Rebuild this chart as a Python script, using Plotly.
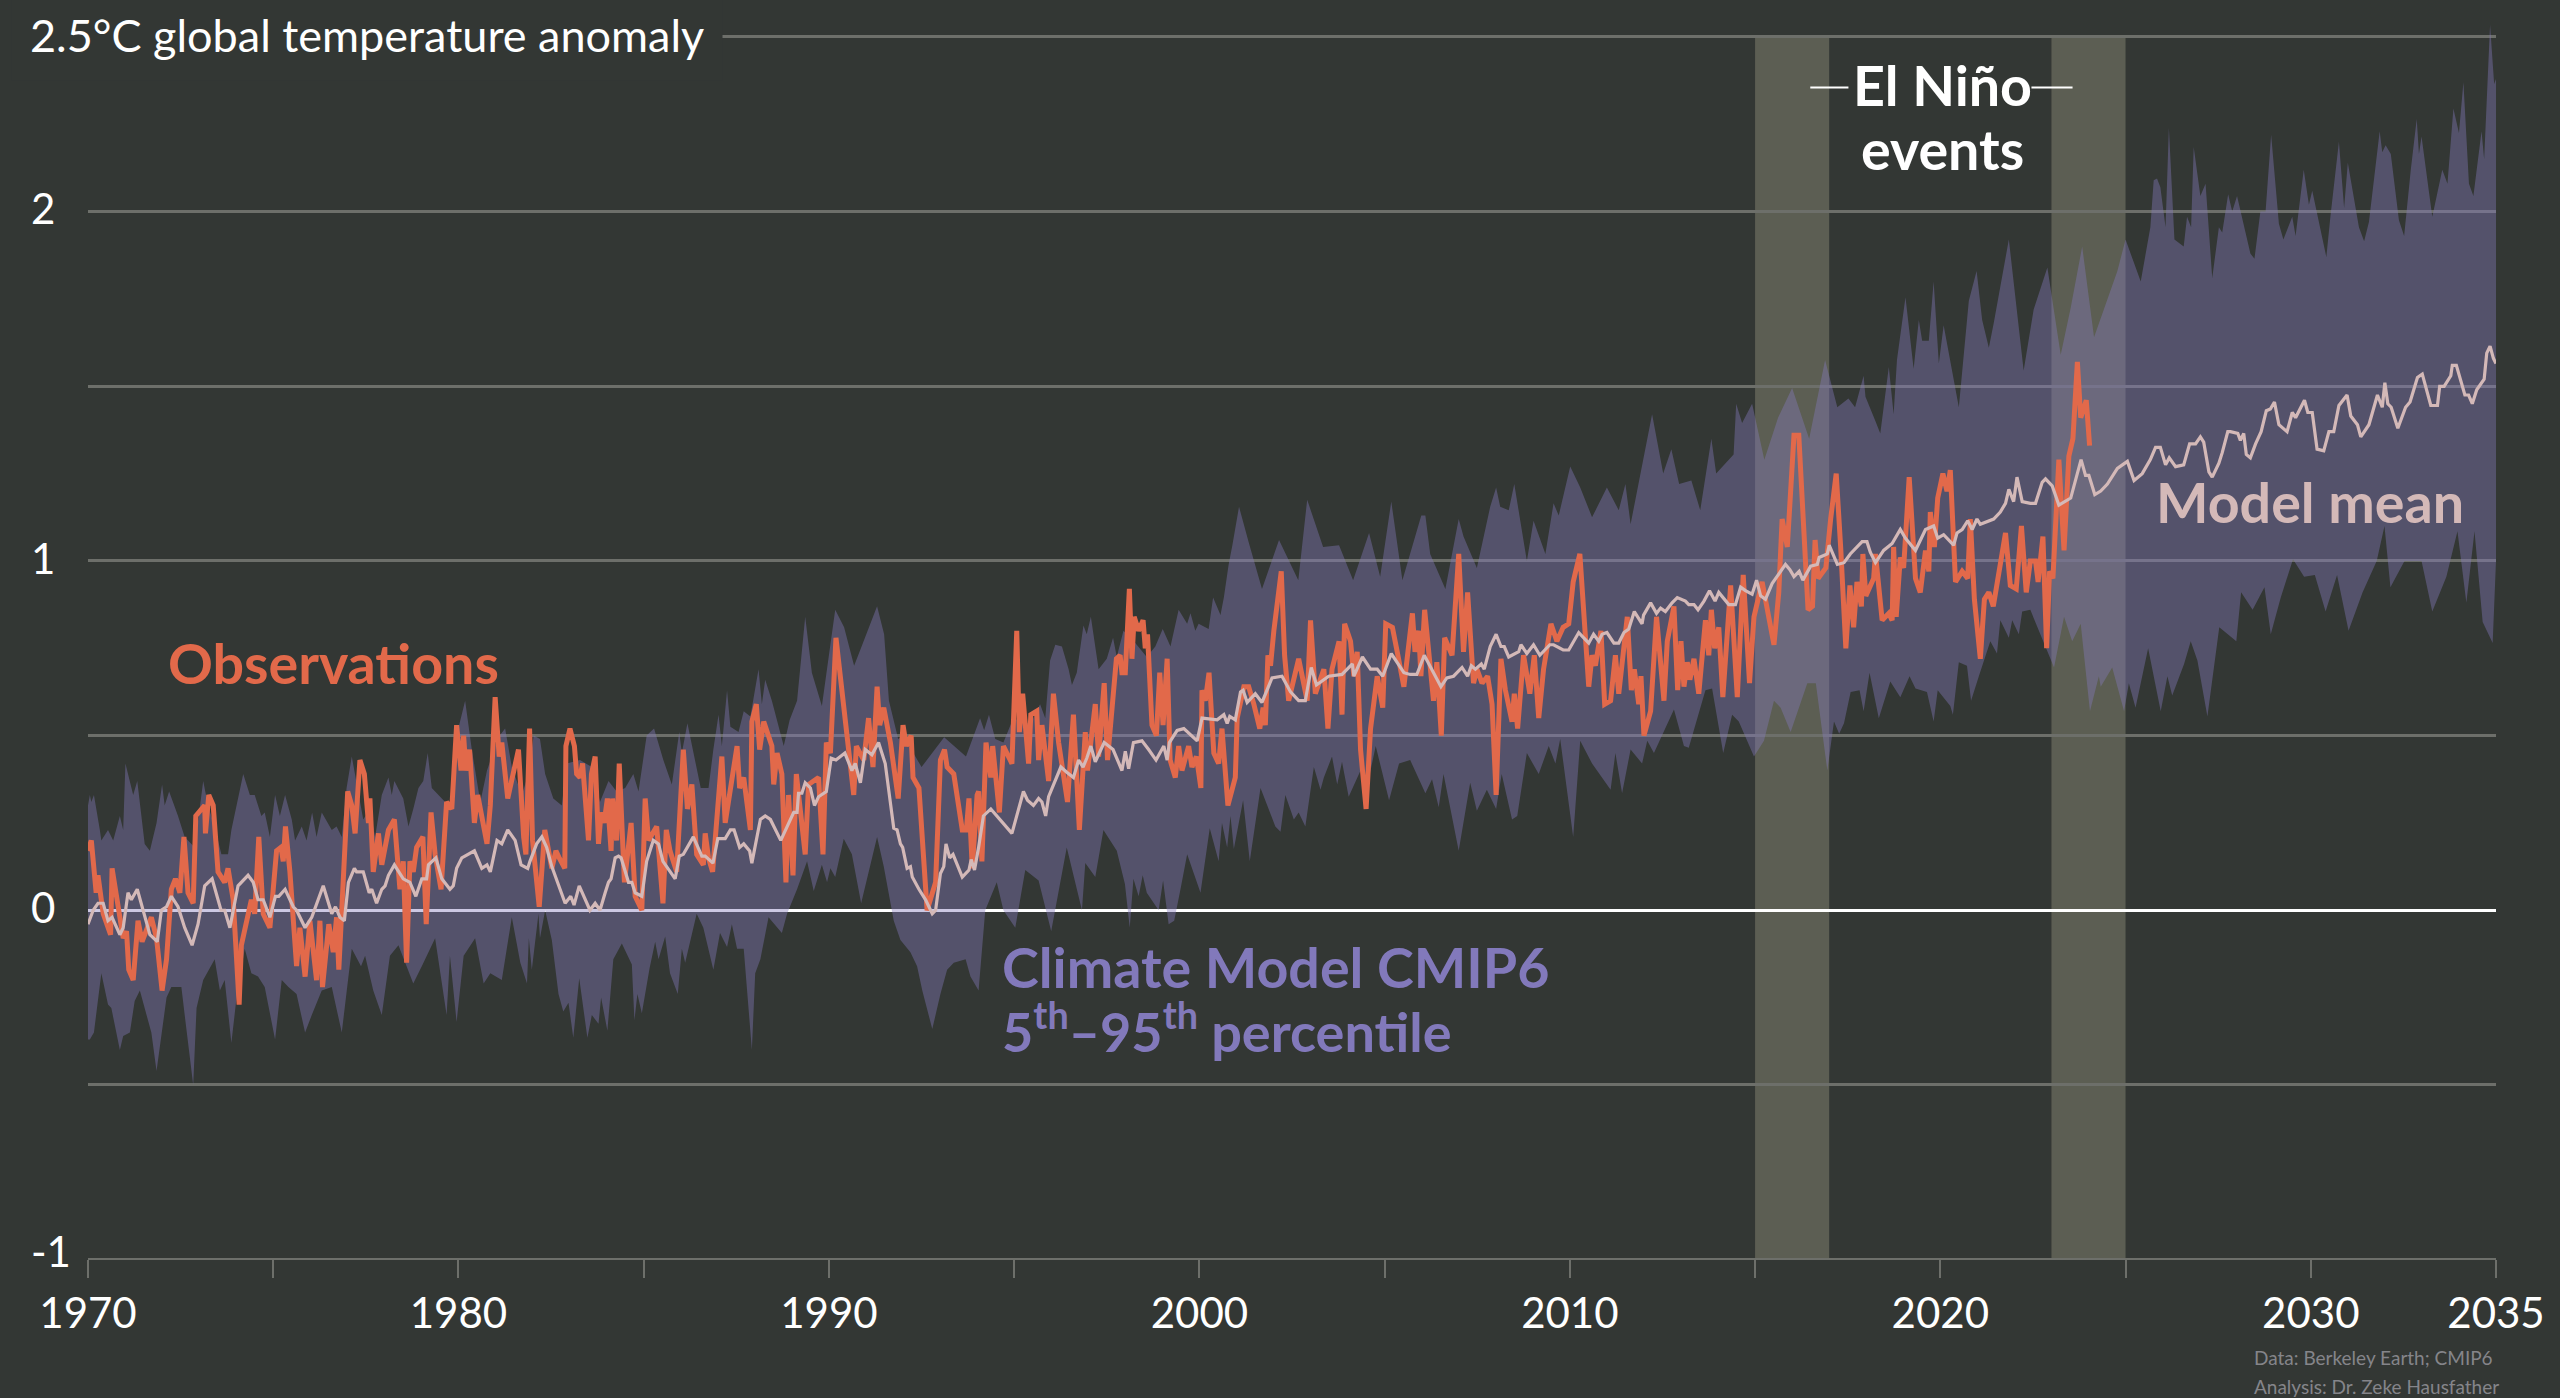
import plotly.graph_objects as go

# Values: (year, deg C)
obs_points = [
    (1970.00, .17), (1970.09, .20), (1970.22, .05), (1970.27, .10), (1970.41, -.01), (1970.61, -.07), (1970.65, .12),
    (1970.81, .02), (1970.95, -.08), (1971.04, -.06), (1971.10, -.17), (1971.22, -.20), (1971.35, -.03), (1971.46, -.09),
    (1971.71, -.02), (1971.85, -.08), (1972.00, -.23), (1972.12, -.14), (1972.25, .06), (1972.36, .09), (1972.48, .05),
    (1972.59, .21), (1972.70, .05), (1972.84, .02), (1972.91, .27), (1973.15, .30), (1973.17, .22), (1973.26, .33),
    (1973.38, .30), (1973.51, .11), (1973.69, .08), (1973.78, .12), (1973.92, .03), (1974.08, -.27), (1974.14, -.10),
    (1974.41, .03), (1974.50, -.01), (1974.61, .21), (1974.73, -.01), (1974.91, -.05), (1975.09, .17), (1975.21, .18),
    (1975.27, .14), (1975.33, .24), (1975.45, .11), (1975.63, -.16), (1975.72, -.05), (1975.86, -.19), (1975.99, -.03),
    (1976.17, -.20), (1976.26, -.03), (1976.33, -.22), (1976.50, -.04), (1976.62, -.12), (1976.71, -.02), (1976.77, -.17),
    (1977.01, .34), (1977.12, .30), (1977.21, .22), (1977.34, .43), (1977.46, .39), (1977.57, .25), (1977.61, .32),
    (1977.70, .11), (1977.84, .22), (1977.93, .13), (1978.11, .23), (1978.27, .26), (1978.42, .06), (1978.51, .14),
    (1978.60, -.15), (1978.69, .14), (1978.78, .11), (1978.87, .18), (1979.04, .21), (1979.13, -.04), (1979.26, .28),
    (1979.37, .16), (1979.53, .06), (1979.68, .31), (1979.82, .29), (1979.95, .53), (1980.07, .40), (1980.14, .50),
    (1980.20, .40), (1980.30, .46), (1980.43, .25), (1980.52, .33), (1980.77, .19), (1980.86, .30), (1980.99, .61),
    (1981.10, .44), (1981.17, .48), (1981.33, .32), (1981.46, .39), (1981.62, .46), (1981.76, .21), (1981.82, .16),
    (1981.92, .52), (1982.00, .20), (1982.18, .01), (1982.33, .23), (1982.52, .12), (1982.63, .17), (1982.72, .15),
    (1982.87, .12), (1982.90, .47), (1983.01, .52), (1983.13, .47), (1983.19, .39), (1983.28, .38), (1983.35, .42),
    (1983.51, .20), (1983.59, .39), (1983.69, .44), (1983.78, .19), (1983.85, .28), (1983.93, .25), (1984.02, .32),
    (1984.12, .17), (1984.16, .32), (1984.27, .20), (1984.34, .42), (1984.48, .08), (1984.66, .25), (1984.77, .04),
    (1984.95, .00), (1985.04, .32), (1985.13, .20), (1985.35, .24), (1985.52, .02), (1985.61, .23), (1985.71, .17),
    (1985.89, .11), (1986.07, .46), (1986.18, .29), (1986.30, .36), (1986.43, .16), (1986.61, .13), (1986.66, .22),
    (1986.75, .15), (1986.86, .11), (1987.11, .44), (1987.20, .25), (1987.52, .47), (1987.59, .35), (1987.70, .38),
    (1987.88, .23), (1987.92, .54), (1988.04, .59), (1988.13, .46), (1988.24, .54), (1988.46, .47), (1988.51, .36),
    (1988.60, .45), (1988.73, .39), (1988.84, .08), (1988.91, .33), (1989.03, .10), (1989.12, .39), (1989.36, .16),
    (1989.45, .36), (1989.72, .38), (1989.84, .16), (1989.93, .48), (1990.04, .45), (1990.19, .78), (1990.40, .58),
    (1990.49, .50), (1990.67, .33), (1990.74, .47), (1990.94, .43), (1991.07, .55), (1991.19, .41), (1991.30, .64),
    (1991.37, .53), (1991.48, .58), (1991.66, .48), (1991.87, .32), (1992.00, .53), (1992.09, .47), (1992.22, .50),
    (1992.27, .38), (1992.43, .35), (1992.65, .00), (1992.88, .08), (1993.01, .43), (1993.12, .46), (1993.19, .41),
    (1993.37, .39), (1993.60, .23), (1993.71, .23), (1993.78, .32), (1993.87, .12), (1994.00, .33), (1994.04, .34),
    (1994.13, .14), (1994.24, .48), (1994.37, .38), (1994.42, .47), (1994.60, .28), (1994.71, .47), (1994.94, .42),
    (1995.07, .80), (1995.14, .51), (1995.23, .62), (1995.39, .42), (1995.45, .56), (1995.61, .57), (1995.66, .43),
    (1995.75, .53), (1995.93, .37), (1996.06, .62), (1996.20, .48), (1996.44, .31), (1996.60, .56), (1996.76, .23),
    (1996.92, .51), (1996.98, .40), (1997.19, .59), (1997.28, .44), (1997.43, .65), (1997.52, .43), (1997.76, .72),
    (1997.86, .73), (1997.91, .68), (1998.00, .68), (1998.11, .92), (1998.18, .72), (1998.24, .84), (1998.36, .80),
    (1998.48, .83), (1998.54, .75), (1998.60, .79), (1998.72, .53), (1998.84, .50), (1998.93, .68), (1999.02, .53),
    (1999.13, .72), (1999.21, .43), (1999.35, .38), (1999.44, .47), (1999.53, .40), (1999.71, .47), (1999.80, .41),
    (1999.92, .44), (2000.04, .35), (2000.07, .63), (2000.16, .60), (2000.26, .68), (2000.39, .45), (2000.52, .42),
    (2000.61, .52), (2000.77, .30), (2000.97, .38), (2001.02, .55), (2001.20, .64), (2001.33, .64), (2001.47, .59),
    (2001.63, .52), (2001.72, .58), (2001.78, .53), (2001.85, .73), (2001.92, .70), (2002.01, .80), (2002.21, .97),
    (2002.30, .73), (2002.41, .60), (2002.68, .72), (2002.91, .60), (2003.00, .83), (2003.13, .62), (2003.36, .69),
    (2003.47, .52), (2003.58, .69), (2003.77, .77), (2003.85, .56), (2003.92, .82), (2004.08, .77), (2004.17, .67),
    (2004.26, .74), (2004.35, .46), (2004.50, .29), (2004.62, .52), (2004.80, .67), (2004.95, .58), (2005.03, .82),
    (2005.21, .81), (2005.34, .74), (2005.52, .64), (2005.75, .85), (2005.82, .74), (2005.92, .80), (2005.98, .67),
    (2006.08, .86), (2006.32, .60), (2006.41, .71), (2006.53, .50), (2006.62, .78), (2006.82, .73), (2007.00, 1.02),
    (2007.13, .74), (2007.24, .91), (2007.40, .65), (2007.49, .69), (2007.63, .65), (2007.78, .67), (2007.90, .59),
    (2008.01, .33), (2008.14, .72), (2008.26, .63), (2008.44, .54), (2008.50, .62), (2008.59, .52), (2008.75, .73),
    (2008.92, .62), (2009.04, .73), (2009.16, .55), (2009.29, .69), (2009.49, .82), (2009.65, .77), (2009.82, .81),
    (2009.97, .82), (2010.09, .94), (2010.27, 1.02), (2010.51, .64), (2010.60, .73), (2010.69, .70), (2010.84, .80),
    (2010.94, .59), (2011.10, .60), (2011.23, .73), (2011.32, .62), (2011.55, .84), (2011.66, .63), (2011.74, .69),
    (2011.86, .59), (2011.92, .67), (2012.00, .50), (2012.18, .57), (2012.34, .84), (2012.54, .60), (2012.63, .77),
    (2012.81, .87), (2012.91, .63), (2013.00, .77), (2013.08, .64), (2013.17, .71), (2013.24, .66), (2013.35, .72),
    (2013.48, .62), (2013.66, .83), (2013.75, .73), (2013.82, .86), (2013.91, .75), (2014.02, .81), (2014.13, .61),
    (2014.34, .93), (2014.52, .61), (2014.68, .96), (2014.85, .65), (2014.97, .84), (2015.19, .94), (2015.51, .76),
    (2015.64, .91), (2015.73, 1.12), (2015.87, 1.04), (2016.05, 1.36), (2016.18, 1.36), (2016.43, .86), (2016.55, .87),
    (2016.62, 1.06), (2016.70, .95), (2016.91, .98), (2017.04, 1.12), (2017.19, 1.25), (2017.31, 1.04), (2017.45, .75),
    (2017.56, .93), (2017.66, .81), (2017.75, .94), (2017.87, .87), (2017.91, 1.02), (2017.99, .90), (2018.20, .95),
    (2018.25, 1.02), (2018.43, .83), (2018.61, .85), (2018.70, .83), (2018.74, 1.04), (2018.81, .84), (2018.92, 1.01),
    (2019.01, .98), (2019.16, 1.24), (2019.33, .95), (2019.46, .91), (2019.60, 1.03), (2019.69, .97), (2019.73, 1.14),
    (2019.84, 1.04), (2019.93, 1.18), (2020.07, 1.25), (2020.18, 1.20), (2020.27, 1.26), (2020.41, .94), (2020.59, .97),
    (2020.74, .95), (2020.81, 1.12), (2020.92, .89), (2021.08, .72), (2021.19, .89), (2021.31, .91), (2021.43, .87),
    (2021.53, .94), (2021.76, 1.08), (2021.89, .93), (2022.05, .92), (2022.19, 1.10), (2022.32, .91), (2022.43, 1.00),
    (2022.57, 1.00), (2022.64, .94), (2022.77, 1.07), (2022.87, .75), (2022.95, .97), (2023.04, .95), (2023.20, 1.29),
    (2023.34, 1.03), (2023.47, 1.30), (2023.58, 1.35), (2023.70, 1.57), (2023.79, 1.41), (2023.94, 1.46), (2024.03, 1.33),
]

mean_points = [
    (1970.00, -.04), (1970.14, .00), (1970.27, .02), (1970.41, .02), (1970.54, -.03), (1970.65, -.02), (1970.86, -.07),
    (1970.95, -.05), (1971.08, .05), (1971.17, .03), (1971.33, .06), (1971.49, .00), (1971.67, -.07), (1971.87, -.09),
    (1971.98, .00), (1972.12, .01), (1972.25, .04), (1972.43, .01), (1972.61, -.05), (1972.81, -.10), (1972.97, -.04),
    (1973.15, .07), (1973.35, .09), (1973.59, .00), (1973.69, .00), (1973.83, -.05), (1973.96, .02), (1974.05, .07),
    (1974.32, .10), (1974.46, .08), (1974.59, .03), (1974.73, .03), (1974.91, -.02), (1975.06, .04), (1975.15, .04),
    (1975.32, .06), (1975.54, .01), (1975.63, .00), (1975.86, -.05), (1976.04, -.02), (1976.35, .07), (1976.58, -.01),
    (1976.68, .01), (1976.80, -.02), (1976.92, -.03), (1977.03, .08), (1977.19, .12), (1977.25, .11), (1977.43, .11),
    (1977.59, .05), (1977.66, .06), (1977.79, .02), (1977.93, .06), (1978.02, .07), (1978.11, .10), (1978.27, .13),
    (1978.51, .09), (1978.69, .08), (1978.85, .04), (1979.01, .09), (1979.14, .09), (1979.19, .13), (1979.39, .15),
    (1979.55, .09), (1979.77, .06), (1979.86, .07), (1979.95, .12), (1980.09, .15), (1980.43, .17), (1980.63, .12),
    (1980.77, .13), (1980.86, .11), (1981.04, .20), (1981.17, .19), (1981.33, .23), (1981.53, .20), (1981.69, .13),
    (1981.87, .12), (1981.93, .14), (1982.11, .19), (1982.25, .21), (1982.38, .18), (1982.52, .125), (1982.70, .07),
    (1982.88, .02), (1983.03, .04), (1983.12, .015), (1983.26, .07), (1983.42, .03), (1983.55, .00), (1983.69, .02),
    (1983.82, .00), (1983.96, .05), (1984.05, .08), (1984.12, .09), (1984.23, .15), (1984.32, .155), (1984.39, .15),
    (1984.59, .08), (1984.68, .08), (1984.77, .05), (1984.95, .04), (1985.08, .14), (1985.26, .20), (1985.40, .19),
    (1985.52, .14), (1985.85, .09), (1985.96, .155), (1986.07, .16), (1986.34, .21), (1986.57, .155), (1986.66, .155),
    (1986.87, .135), (1987.00, .205), (1987.20, .205), (1987.34, .23), (1987.44, .23), (1987.59, .18), (1987.70, .19),
    (1987.86, .17), (1987.92, .135), (1988.15, .26), (1988.28, .27), (1988.42, .26), (1988.70, .20), (1989.05, .28),
    (1989.14, .28), (1989.18, .335), (1989.27, .335), (1989.36, .365), (1989.50, .35), (1989.61, .30), (1989.72, .325),
    (1989.93, .34), (1990.06, .435), (1990.19, .43), (1990.43, .45), (1990.62, .40), (1990.71, .42), (1990.85, .365),
    (1990.98, .46), (1991.16, .445), (1991.34, .48), (1991.52, .42), (1991.75, .235), (1991.84, .23), (1991.93, .19),
    (1991.99, .18), (1992.11, .12), (1992.20, .125), (1992.25, .095), (1992.43, .06), (1992.61, .03), (1992.79, -.01),
    (1992.88, .00), (1993.01, .105), (1993.10, .125), (1993.16, .19), (1993.26, .15), (1993.35, .16), (1993.60, .095),
    (1993.78, .115), (1993.84, .145), (1993.93, .115), (1994.04, .18), (1994.17, .27), (1994.37, .29), (1994.76, .24),
    (1994.94, .22), (1995.25, .34), (1995.36, .315), (1995.52, .30), (1995.66, .32), (1995.75, .31), (1995.85, .27),
    (1995.93, .325), (1996.26, .41), (1996.42, .395), (1996.60, .38), (1996.74, .43), (1996.86, .41), (1996.96, .435),
    (1997.07, .47), (1997.19, .425), (1997.43, .48), (1997.67, .46), (1997.91, .40), (1998.00, .455), (1998.09, .405),
    (1998.22, .48), (1998.45, .485), (1998.63, .46), (1998.83, .43), (1999.04, .47), (1999.13, .43), (1999.19, .48),
    (1999.40, .515), (1999.58, .52), (1999.94, .485), (2000.07, .55), (2000.48, .545), (2000.66, .56), (2000.75, .535),
    (2000.82, .555), (2000.97, .545), (2001.11, .625), (2001.18, .63), (2001.29, .595), (2001.51, .62), (2001.69, .595),
    (2001.96, .665), (2002.23, .67), (2002.46, .625), (2002.68, .60), (2002.86, .60), (2003.02, .695), (2003.16, .645),
    (2003.49, .67), (2003.85, .675), (2004.13, .705), (2004.17, .67), (2004.40, .725), (2004.62, .69), (2004.80, .69),
    (2004.95, .67), (2005.18, .735), (2005.52, .68), (2005.69, .675), (2005.87, .675), (2006.07, .73), (2006.28, .69),
    (2006.37, .67), (2006.52, .64), (2006.68, .665), (2006.86, .67), (2007.09, .695), (2007.24, .67), (2007.34, .70),
    (2007.45, .69), (2007.61, .705), (2007.69, .69), (2007.85, .755), (2008.01, .79), (2008.14, .755), (2008.23, .755),
    (2008.35, .725), (2008.62, .74), (2008.68, .76), (2008.84, .735), (2009.02, .76), (2009.19, .73), (2009.46, .76),
    (2009.56, .76), (2009.82, .745), (2009.97, .745), (2010.24, .795), (2010.51, .765), (2010.64, .79), (2010.78, .77),
    (2010.87, .79), (2011.00, .795), (2011.19, .765), (2011.32, .765), (2011.46, .795), (2011.59, .805), (2011.74, .855),
    (2011.95, .82), (2011.99, .845), (2012.18, .88), (2012.34, .85), (2012.45, .865), (2012.58, .855), (2012.76, .88),
    (2012.90, .895), (2013.12, .885), (2013.21, .875), (2013.35, .875), (2013.46, .86), (2013.62, .885), (2013.77, .915),
    (2013.92, .885), (2014.02, .91), (2014.29, .875), (2014.47, .875), (2014.61, .925), (2014.74, .915), (2014.92, .905),
    (2015.04, .945), (2015.15, .90), (2015.28, .89), (2015.46, .935), (2015.82, .99), (2015.94, .975), (2016.05, .955),
    (2016.19, .97), (2016.29, .945), (2016.50, .985), (2016.68, .99), (2016.73, 1.01), (2016.95, 1.02), (2017.00, 1.045),
    (2017.22, .99), (2017.40, .995), (2017.57, 1.02), (2017.75, 1.04), (2017.89, 1.055), (2018.02, 1.055), (2018.11, 1.025),
    (2018.25, .995), (2018.47, 1.03), (2018.70, 1.05), (2018.92, 1.09), (2019.06, 1.065), (2019.33, 1.03), (2019.60, 1.09),
    (2019.82, 1.10), (2019.93, 1.065), (2020.09, 1.075), (2020.36, 1.045), (2020.45, 1.08), (2020.59, 1.09), (2020.74, 1.115),
    (2020.86, 1.09), (2020.99, 1.12), (2021.08, 1.105), (2021.44, 1.12), (2021.62, 1.14), (2021.76, 1.165), (2021.85, 1.205),
    (2021.98, 1.17), (2022.07, 1.24), (2022.21, 1.17), (2022.43, 1.165), (2022.57, 1.165), (2022.75, 1.225), (2022.84, 1.235),
    (2023.02, 1.215), (2023.20, 1.16), (2023.52, 1.18), (2023.80, 1.29), (2023.92, 1.245), (2024.01, 1.245), (2024.17, 1.19),
    (2024.33, 1.20), (2024.51, 1.22), (2024.78, 1.265), (2025.05, 1.285), (2025.23, 1.23), (2025.45, 1.25), (2025.67, 1.29),
    (2025.81, 1.325), (2025.94, 1.325), (2026.08, 1.275), (2026.18, 1.295), (2026.35, 1.27), (2026.57, 1.275), (2026.73, 1.335),
    (2026.89, 1.335), (2027.02, 1.355), (2027.11, 1.34), (2027.25, 1.255), (2027.34, 1.24), (2027.52, 1.28), (2027.61, 1.31),
    (2027.76, 1.37), (2027.83, 1.37), (2028.03, 1.365), (2028.10, 1.345), (2028.19, 1.365), (2028.26, 1.305), (2028.37, 1.295),
    (2028.51, 1.335), (2028.66, 1.37), (2028.80, 1.43), (2028.91, 1.435), (2029.02, 1.455), (2029.14, 1.39), (2029.36, 1.37),
    (2029.50, 1.425), (2029.59, 1.41), (2029.83, 1.46), (2029.92, 1.425), (2030.04, 1.425), (2030.17, 1.32), (2030.35, 1.315),
    (2030.49, 1.37), (2030.62, 1.37), (2030.76, 1.445), (2030.98, 1.475), (2031.08, 1.415), (2031.26, 1.39), (2031.35, 1.355),
    (2031.57, 1.39), (2031.80, 1.475), (2031.93, 1.44), (2032.00, 1.51), (2032.08, 1.45), (2032.17, 1.44), (2032.35, 1.38),
    (2032.56, 1.44), (2032.68, 1.455), (2032.88, 1.525), (2033.01, 1.535), (2033.24, 1.445), (2033.42, 1.445), (2033.48, 1.50),
    (2033.60, 1.50), (2033.78, 1.53), (2033.82, 1.56), (2033.93, 1.56), (2034.16, 1.475), (2034.26, 1.475), (2034.36, 1.45),
    (2034.48, 1.49), (2034.68, 1.52), (2034.75, 1.595), (2034.84, 1.615), (2034.93, 1.58), (2035.00, 1.565),
]

upper_points = [
    (1970.00, .30), (1970.05, .33), (1970.09, .31), (1970.16, .33), (1970.32, .23), (1970.36, .20), (1970.54, .23), (1970.68, .20),
    (1970.86, .27), (1970.95, .23), (1971.01, .42), (1971.22, .33), (1971.33, .37), (1971.53, .19), (1971.67, .17), (1971.85, .25),
    (1972.00, .36), (1972.07, .30), (1972.19, .34), (1972.43, .27), (1972.61, .21), (1972.88, .18), (1973.11, .37), (1973.24, .30),
    (1973.42, .24), (1973.60, .16), (1973.78, .16), (1973.87, .23), (1974.19, .39), (1974.37, .33), (1974.50, .33), (1974.68, .27),
    (1974.77, .28), (1974.91, .21), (1975.05, .33), (1975.18, .27), (1975.32, .33), (1975.50, .26), (1975.59, .20), (1975.77, .24),
    (1975.90, .20), (1976.05, .28), (1976.17, .21), (1976.31, .28), (1976.58, .23), (1976.71, .24), (1976.85, .21), (1976.98, .35),
    (1977.12, .44), (1977.30, .33), (1977.43, .26), (1977.61, .29), (1977.75, .21), (1977.93, .33), (1978.11, .38), (1978.20, .33),
    (1978.27, .37), (1978.51, .32), (1978.65, .24), (1978.78, .29), (1978.92, .35), (1979.05, .37), (1979.17, .45), (1979.28, .35),
    (1979.37, .34), (1979.55, .32), (1979.64, .31), (1979.82, .31), (1979.95, .50), (1980.18, .60), (1980.36, .46), (1980.59, .31),
    (1980.77, .40), (1980.90, .44), (1981.04, .49), (1981.26, .52), (1981.44, .41), (1981.71, .33), (1981.89, .39), (1982.03, .50),
    (1982.20, .49), (1982.34, .39), (1982.56, .32), (1982.79, .30), (1982.92, .42), (1983.28, .43), (1983.60, .41), (1983.82, .31),
    (1984.05, .37), (1984.27, .34), (1984.50, .35), (1984.72, .39), (1984.86, .34), (1985.08, .50), (1985.28, .52), (1985.53, .43),
    (1985.76, .36), (1985.96, .51), (1986.03, .45), (1986.18, .535), (1986.43, .41), (1986.54, .35), (1986.75, .35), (1986.88, .46),
    (1987.02, .56), (1987.11, .47), (1987.25, .63), (1987.34, .525), (1987.56, .51), (1987.70, .57), (1987.88, .555), (1988.10, .69),
    (1988.19, .59), (1988.28, .66), (1988.46, .60), (1988.64, .525), (1988.78, .47), (1988.94, .545), (1989.14, .60), (1989.36, .84),
    (1989.54, .68), (1989.81, .585), (1990.17, .86), (1990.41, .81), (1990.68, .70), (1990.90, .76), (1991.30, .87), (1991.49, .79),
    (1991.62, .60), (1991.87, .49), (1992.00, .50), (1992.50, .41), (1993.11, .495), (1993.70, .44), (1994.08, .55), (1994.19, .515),
    (1994.32, .56), (1994.49, .49), (1994.71, .48), (1994.94, .54), (1995.16, .55), (1995.43, .53), (1995.70, .59), (1995.84, .55),
    (1995.97, .715), (1996.11, .76), (1996.29, .755), (1996.47, .69), (1996.56, .645), (1996.69, .68), (1996.87, .815), (1996.96, .79),
    (1997.07, .84), (1997.28, .69), (1997.50, .72), (1997.67, .78), (1997.77, .725), (1997.95, .80), (1998.27, .765), (1998.58, .725),
    (1998.81, .755), (1999.01, .805), (1999.22, .755), (1999.44, .86), (1999.67, .82), (1999.76, .85), (1999.89, .80), (1999.98, .82),
    (2000.25, .805), (2000.37, .895), (2000.57, .845), (2000.66, .895), (2000.79, .99), (2000.89, 1.045), (2001.07, 1.155), (2001.34, 1.05),
    (2001.69, .92), (2002.15, 1.06), (2002.67, .945), (2002.91, 1.175), (2003.34, 1.04), (2003.77, 1.045), (2004.15, .945), (2004.58, 1.08),
    (2004.88, .955), (2005.18, 1.17), (2005.48, .945), (2005.99, 1.13), (2006.10, 1.13), (2006.23, 1.02), (2006.64, .92), (2007.00, 1.12),
    (2007.13, 1.07), (2007.49, .98), (2007.85, 1.155), (2008.01, 1.21), (2008.12, 1.155), (2008.35, 1.145), (2008.50, 1.22), (2008.84, 1.00),
    (2009.02, 1.115), (2009.34, 1.02), (2009.56, 1.165), (2009.70, 1.13), (2010.01, 1.27), (2010.28, 1.21), (2010.60, 1.125), (2011.00, 1.21),
    (2011.32, 1.145), (2011.50, 1.22), (2011.64, 1.105), (2012.22, 1.42), (2012.52, 1.25), (2012.74, 1.32), (2012.95, 1.22), (2013.28, 1.23),
    (2013.52, 1.145), (2013.82, 1.35), (2013.95, 1.25), (2014.42, 1.305), (2014.49, 1.45), (2014.65, 1.395), (2014.92, 1.45), (2015.25, 1.29),
    (2015.62, 1.41), (2016.00, 1.495), (2016.46, 1.35), (2016.89, 1.575), (2017.22, 1.44), (2017.52, 1.465), (2017.70, 1.44), (2017.93, 1.53),
    (2017.98, 1.47), (2018.25, 1.40), (2018.38, 1.365), (2018.61, 1.555), (2018.74, 1.42), (2018.83, 1.575), (2019.06, 1.755), (2019.28, 1.55),
    (2019.42, 1.69), (2019.51, 1.63), (2019.69, 1.63), (2019.82, 1.80), (2019.96, 1.565), (2020.09, 1.675), (2020.50, 1.44), (2020.77, 1.745),
    (2020.98, 1.83), (2021.13, 1.69), (2021.31, 1.61), (2021.44, 1.68), (2021.85, 1.92), (2022.25, 1.545), (2022.52, 1.72), (2022.89, 1.84),
    (2023.25, 1.59), (2023.52, 1.725), (2023.83, 1.90), (2024.15, 1.64), (2024.46, 1.735), (2024.78, 1.83), (2025.00, 1.92), (2025.41, 1.80),
    (2025.67, 1.955), (2025.76, 2.09), (2025.85, 2.095), (2025.94, 2.07), (2026.08, 1.955), (2026.17, 2.24), (2026.32, 1.92), (2026.57, 1.90),
    (2026.66, 1.985), (2026.77, 1.955), (2026.84, 2.185), (2027.02, 2.045), (2027.16, 2.08), (2027.34, 1.81), (2027.52, 1.955), (2027.61, 1.94),
    (2027.77, 2.05), (2027.88, 2.00), (2028.01, 2.045), (2028.37, 1.88), (2028.48, 1.865), (2028.64, 2.00), (2028.78, 2.00), (2028.93, 2.22),
    (2029.14, 1.965), (2029.26, 1.92), (2029.50, 1.985), (2029.59, 1.93), (2029.81, 2.12), (2029.95, 2.02), (2030.04, 2.06), (2030.31, 1.93),
    (2030.42, 1.87), (2030.53, 1.985), (2030.76, 2.20), (2030.90, 2.01), (2031.00, 2.14), (2031.30, 1.955), (2031.44, 1.915), (2031.57, 1.97),
    (2031.86, 2.23), (2031.93, 2.17), (2032.02, 2.19), (2032.16, 2.165), (2032.38, 1.975), (2032.52, 1.93), (2032.70, 2.12), (2032.86, 2.265),
    (2032.92, 2.165), (2032.99, 2.215), (2033.28, 1.985), (2033.55, 2.12), (2033.69, 2.08), (2033.85, 2.295), (2034.00, 2.225), (2034.12, 2.37),
    (2034.27, 2.08), (2034.39, 2.045), (2034.61, 2.23), (2034.68, 2.15), (2034.84, 2.535), (2034.95, 2.365), (2035.00, 2.38),
]

lower_points = [
    (1970.00, -.37), (1970.05, -.37), (1970.16, -.35), (1970.36, -.18), (1970.54, -.27), (1970.63, -.28), (1970.86, -.40), (1970.95, -.36),
    (1971.13, -.35), (1971.26, -.26), (1971.40, -.23), (1971.58, -.30), (1971.71, -.35), (1971.85, -.46), (1972.12, -.25), (1972.25, -.22),
    (1972.52, -.22), (1972.61, -.30), (1972.84, -.50), (1972.93, -.28), (1973.11, -.20), (1973.42, -.14), (1973.56, -.23), (1973.69, -.20),
    (1973.87, -.38), (1974.01, -.25), (1974.23, -.11), (1974.41, -.18), (1974.59, -.19), (1974.77, -.22), (1975.05, -.37), (1975.23, -.20),
    (1975.41, -.22), (1975.63, -.24), (1975.86, -.35), (1976.04, -.30), (1976.31, -.23), (1976.58, -.22), (1976.85, -.35), (1977.12, -.11),
    (1977.37, -.16), (1977.48, -.13), (1977.70, -.23), (1977.93, -.30), (1978.15, -.13), (1978.38, -.10), (1978.78, -.21), (1979.01, -.16),
    (1979.37, -.08), (1979.68, -.30), (1979.77, -.13), (1979.95, -.32), (1980.14, -.13), (1980.45, -.08), (1980.68, -.21), (1980.86, -.18),
    (1981.17, -.20), (1981.44, -.02), (1981.67, -.15), (1981.85, -.21), (1981.90, -.08), (1981.98, -.17), (1982.16, -.01), (1982.20, -.08),
    (1982.34, .00), (1982.52, -.085), (1982.70, -.24), (1982.83, -.29), (1982.97, -.265), (1983.10, -.365), (1983.26, -.195), (1983.48, -.365),
    (1983.60, -.30), (1983.78, -.325), (1983.85, -.25), (1984.02, -.345), (1984.18, -.14), (1984.41, -.095), (1984.68, -.155), (1984.75, -.315),
    (1984.83, -.24), (1984.95, -.295), (1985.16, -.165), (1985.31, -.09), (1985.40, -.14), (1985.58, -.075), (1985.71, -.18), (1985.92, -.24),
    (1986.03, -.11), (1986.12, -.15), (1986.43, -.01), (1986.61, -.05), (1986.88, -.17), (1987.06, -.065), (1987.25, -.105), (1987.38, -.04),
    (1987.52, -.11), (1987.70, -.11), (1987.92, -.40), (1988.01, -.18), (1988.15, -.14), (1988.37, -.02), (1988.73, -.065), (1988.87, -.01),
    (1989.14, .06), (1989.41, .14), (1989.59, .055), (1989.81, .13), (1989.95, .08), (1990.04, .12), (1990.17, .095), (1990.40, .205),
    (1990.62, .16), (1990.87, .02), (1991.30, .21), (1991.48, .125), (1991.75, -.03), (1991.93, -.085), (1992.20, -.12), (1992.38, -.16),
    (1992.52, -.23), (1992.79, -.34), (1993.01, -.24), (1993.19, -.17), (1993.37, -.15), (1993.69, -.14), (1993.82, -.19), (1994.04, -.23),
    (1994.22, .00), (1994.53, .08), (1994.71, .00), (1995.03, -.05), (1995.30, .115), (1995.66, .085), (1996.00, -.06), (1996.42, .18),
    (1996.83, .00), (1996.92, .135), (1997.19, .095), (1997.41, .23), (1997.77, .17), (1997.99, .075), (1998.12, -.05), (1998.22, .09),
    (1998.36, .04), (1998.47, .10), (1998.58, .05), (1998.90, .00), (1999.02, .085), (1999.17, -.04), (1999.32, -.03), (1999.49, .06),
    (1999.67, .16), (2000.03, .05), (2000.28, .235), (2000.52, .14), (2000.61, .25), (2000.75, .18), (2000.84, .27), (2000.93, .175),
    (2001.18, .315), (2001.36, .14), (2001.65, .35), (2002.05, .24), (2002.19, .225), (2002.32, .33), (2002.55, .26), (2002.68, .28),
    (2002.86, .24), (2003.09, .41), (2003.27, .345), (2003.36, .38), (2003.58, .44), (2003.72, .36), (2003.85, .425), (2004.03, .325),
    (2004.35, .40), (2004.53, .355), (2004.76, .47), (2005.12, .315), (2005.39, .42), (2005.69, .43), (2006.10, .335), (2006.28, .375),
    (2006.46, .295), (2006.59, .39), (2007.00, .17), (2007.31, .365), (2007.49, .285), (2007.76, .345), (2008.01, .29), (2008.16, .39),
    (2008.44, .26), (2008.58, .27), (2008.84, .45), (2009.16, .39), (2009.43, .47), (2009.61, .42), (2009.74, .49), (2010.09, .21),
    (2010.28, .485), (2010.60, .42), (2011.10, .345), (2011.23, .45), (2011.41, .335), (2011.64, .46), (2011.95, .42), (2012.09, .485),
    (2012.27, .45), (2012.81, .575), (2013.08, .47), (2013.21, .465), (2013.66, .63), (2013.84, .635), (2014.14, .45), (2014.38, .56),
    (2014.56, .54), (2014.97, .44), (2015.24, .485), (2015.51, .60), (2015.69, .58), (2015.96, .51), (2016.41, .65), (2016.64, .65),
    (2016.95, .40), (2017.13, .54), (2017.27, .505), (2017.40, .535), (2017.58, .625), (2017.82, .63), (2017.93, .57), (2018.09, .68),
    (2018.34, .55), (2018.65, .655), (2018.79, .63), (2018.92, .61), (2019.17, .67), (2019.33, .635), (2019.64, .625), (2019.82, .54),
    (2019.93, .63), (2020.27, .585), (2020.34, .56), (2020.50, .71), (2020.72, .70), (2020.83, .60), (2021.04, .67), (2021.35, .77),
    (2021.53, .735), (2021.62, .83), (2021.85, .78), (2021.94, .83), (2022.12, .79), (2022.21, .855), (2022.43, .86), (2022.75, .78),
    (2023.07, .695), (2023.34, .84), (2023.56, .77), (2023.79, .82), (2024.04, .57), (2024.28, .67), (2024.33, .64), (2024.64, .695),
    (2024.96, .57), (2025.09, .65), (2025.27, .58), (2025.61, .75), (2025.95, .57), (2026.13, .67), (2026.26, .615), (2026.58, .705),
    (2026.76, .77), (2026.94, .715), (2027.21, .555), (2027.53, .81), (2027.99, .77), (2028.12, .91), (2028.43, .86), (2028.75, .925),
    (2028.92, .79), (2029.19, .895), (2029.52, 1.005), (2029.82, .955), (2030.11, .96), (2030.40, .855), (2030.71, .96), (2031.02, .80),
    (2031.40, .91), (2031.78, 1.00), (2031.99, 1.10), (2032.15, .925), (2032.53, 1.00), (2032.99, 1.00), (2033.28, .855), (2033.66, .955),
    (2033.96, 1.085), (2034.20, .88), (2034.42, 1.085), (2034.64, .825), (2034.91, .765), (2035.00, 1.00),
]

nino_starts = [2015, 2023]
nino_ends = [2017, 2025]

x_ticks = [1970, 1975, 1980, 1985, 1990, 1995, 2000, 2005, 2010, 2015, 2020, 2025, 2030, 2035]
x_labels = ["1970", "", "1980", "", "1990", "", "2000", "", "2010", "", "2020", "", "2030", "2035"]
y_grid = [-0.5, 0, 0.5, 1, 1.5, 2, 2.5]
y_ticks = [2, 1, 0, -1]
y_labels = ["2", "1", "0", "-1"]

BG = "#333734"
GRID = "#6d6f6a"
ORANGE = "#e2694a"
PINK = "#d4b9b8"
PURPLE = "#8279bb"
FONT = "Lato"
PX_LEFT, PX_WIDTH = 88, 2408

fig = go.Figure()
fig.add_trace(go.Scatter(x=[p[0] for p in lower_points], y=[p[1] for p in lower_points],
                         mode="lines", line=dict(width=0), hoverinfo="skip", showlegend=False))
fig.add_trace(go.Scatter(x=[p[0] for p in upper_points], y=[p[1] for p in upper_points],
                         mode="lines", line=dict(width=0), fill="tonexty",
                         fillcolor="rgba(130,121,187,0.41)", hoverinfo="skip", showlegend=False))
fig.add_trace(go.Scatter(x=[p[0] for p in obs_points], y=[p[1] for p in obs_points],
                         mode="lines", line=dict(color=ORANGE, width=5), showlegend=False))
fig.add_trace(go.Scatter(x=[p[0] for p in mean_points], y=[p[1] for p in mean_points],
                         mode="lines", line=dict(color=PINK, width=3.2), showlegend=False))

for start, end in zip(nino_starts, nino_ends):
    fig.add_shape(type="rect", x0=start, x1=end, y0=-0.9955, y1=2.5, layer="below",
                  fillcolor="rgba(188,185,155,0.3)", line_width=0)

# small dashes either side of "El Nino"
fig.add_shape(type="line", x0=2016.49, x1=2017.52, y0=2.355, y1=2.355, line=dict(color="white", width=2))
fig.add_shape(type="line", x0=2022.46, x1=2023.57, y0=2.355, y1=2.355, line=dict(color="white", width=2))


def note(text, px, y, size, color, anchor="left", weight=400, yref="y"):
    fig.add_annotation(text=text, x=(px - PX_LEFT) / PX_WIDTH, y=y, xref="paper", yref=yref,
                       xanchor=anchor, yanchor="middle", showarrow=False, align=anchor,
                       font=dict(family=FONT, size=size, color=color, weight=weight))


for val, lab in zip(y_ticks, y_labels):
    note(lab, 29, val + 0.009 if val > -1 else val + 0.024, 42, "white")

fig.add_annotation(text="2.5°C global temperature anomaly", x=(11 - PX_LEFT) / PX_WIDTH, y=2.505, xref="paper", yref="y",
                   xanchor="left", yanchor="middle", showarrow=False, bgcolor=BG, borderpad=18,
                   font=dict(family=FONT, size=45, color="white"))

note("Observations", 166, 0.71, 55.6, ORANGE, weight=700)
note("Climate Model CMIP6", 1000, -0.16, 55.6, PURPLE, weight=700)
note("5<sup>th</sup>–95<sup>th</sup> percentile", 1000, -0.336, 54, PURPLE, weight=700)
note("Model mean", 2154, 1.17, 55.6, PINK, weight=700)
note("El Niño", 1942, 2.365, 55.6, "white", anchor="center", weight=700)
note("events", 1942, 2.18, 55.6, "white", anchor="center", weight=700)
note("Data: Berkeley Earth; CMIP6", 2252, -0.0799, 19, "#85858a", yref="paper")
note("Analysis: Dr. Zeke Hausfather", 2252, -0.1033, 19, "#85858a", yref="paper")

fig.update_layout(
    width=2560, height=1398, autosize=False,
    margin=dict(l=88, r=64, t=16, b=140.3, pad=0),
    paper_bgcolor=BG, plot_bgcolor=BG,
    font=dict(family=FONT, color="white"),
    showlegend=False,
    xaxis=dict(range=[1970, 2035], tickmode="array", tickvals=x_ticks, ticktext=x_labels,
               showgrid=False, zeroline=False, showline=True, linecolor=GRID, linewidth=2,
               ticks="outside", ticklen=18, tickwidth=2, tickcolor=GRID,
               tickfont=dict(family=FONT, size=42, color="white")),
    yaxis=dict(range=[-0.9955, 2.56], tickmode="array", tickvals=y_grid, ticktext=[""] * len(y_grid),
               showgrid=True, gridcolor=GRID, gridwidth=2.5, zeroline=True, zerolinecolor="white",
               zerolinewidth=2.5, showline=False, ticks=""),
)

fig.write_html("out.html", config={"displayModeBar": False}, post_script="document.body.style.margin='0';")
